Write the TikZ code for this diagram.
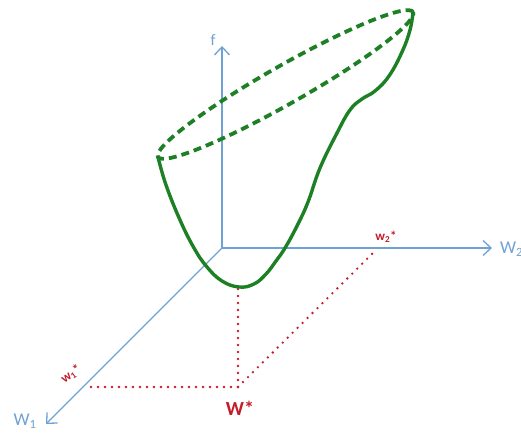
\documentclass[tikz,border=0pt]{standalone}
\usepackage{fontspec}
\setmainfont{Carlito}
\usetikzlibrary{arrows.meta}
\definecolor{axisblue}{RGB}{110,162,212}
\definecolor{curvegreen}{RGB}{30,128,36}
\definecolor{starred}{RGB}{196,28,40}
\tikzset{
  axisline/.style={draw=axisblue, line width=1.3pt, -{Straight Barb[length=8pt,width=15pt,line width=1.3pt]}},
  axislabel/.style={text=axisblue, inner sep=0pt, font=\fontsize{18}{20}\selectfont},
  solidcurve/.style={draw=curvegreen, line width=3.4pt, line cap=round, line join=round},
  dashcurve/.style={draw=curvegreen, line width=3.8pt, dash pattern=on 8pt off 5pt},
  reddots/.style={draw=starred, line width=2.6pt, line cap=round, dash pattern=on 0pt off 7pt},
  redlabel/.style={text=starred, inner sep=0pt, font=\bfseries\fontsize{13}{14}\selectfont},
}
\begin{document}
\begin{tikzpicture}[x=1pt,y=-1pt]
\useasboundingbox (0,0) rectangle (521,435);
% axes
\coordinate (O) at (222,248);
\coordinate (ftip) at (222,46);
\coordinate (wtwotip) at (492,248);
\coordinate (wonetip) at (46,424);
\draw[axisline] (O) -- (ftip);
\draw[axisline] (O) -- (wtwotip);
\draw[axisline] (O) -- (wonetip);
\node[axislabel, font=\fontsize{16}{18}\selectfont] (flab) at (213,40) {f};
\node[axislabel, anchor=west] (wtwolab) at (500,249) {W\textsubscript{2}};
\node[axislabel] (wonelab) at (25,421) {W\textsubscript{1}};
% red projections
\coordinate (minpt) at (238,289);
\coordinate (wstar) at (238,387);
\coordinate (wone) at (86,387);
\coordinate (wtwo) at (377,249);
\draw[reddots] (minpt) -- (wstar);
\draw[reddots] (wstar) -- (wone);
\draw[reddots] (wstar) -- (wtwo);
\node[redlabel] (wonestar) at (71,374) [rotate=36] {w\textsubscript{1}*};
\node[redlabel] (wtwostar) at (386,237) {w\textsubscript{2}*};
\node[text=starred, inner sep=0pt, font=\bfseries\fontsize{20}{22}\selectfont] (wstarlab) at (240,408) {W*};
% green surface
\coordinate (topleft) at (158,157);
\coordinate (topright) at (413,12);
\coordinate (ctr) at (285.5,84.5);
\draw[dashcurve, rotate around={29.6:(ctr)}] (ctr) ellipse (146.7pt and 19pt);
\draw[solidcurve] plot[smooth, tension=0.7] coordinates {
  (158,157) (166,185) (180,220) (194,248) (207,267)
  (222,281) (239,287) (254,284) (266,274) (276,261) (285,248) (297,226)
  (308,202) (320,168) (337,133) (350,110) (362,99) (375,91) (389,76)
  (402,52) (410,30) (413,12)};
\end{tikzpicture}
\end{document}
